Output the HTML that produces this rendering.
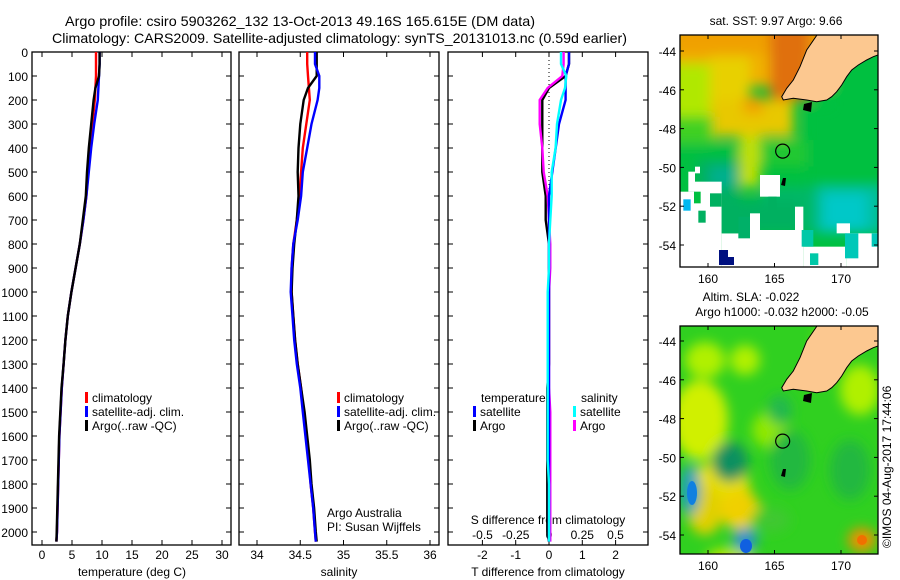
<!DOCTYPE html>
<html><head><meta charset="utf-8"><style>
html,body{margin:0;padding:0;background:#fff;width:900px;height:580px;overflow:hidden}
svg text{font-family:"Liberation Sans",sans-serif;fill:#000}
</style></head><body>
<svg id="fig" xmlns="http://www.w3.org/2000/svg" width="900" height="580" viewBox="0 0 900 580">
<defs>
<filter id="blur6" x="-20%" y="-20%" width="140%" height="140%"><feGaussianBlur stdDeviation="6"/></filter>
<filter id="blur3"><feGaussianBlur stdDeviation="3"/></filter>
<clipPath id="clipTop"><rect x="680" y="35" width="198" height="232"/></clipPath>
<clipPath id="clipBot"><rect x="680" y="326" width="198" height="228"/></clipPath>
</defs>
<text x="65" y="26" font-size="14" textLength="470" lengthAdjust="spacingAndGlyphs">Argo profile: csiro 5903262_132 13-Oct-2013 49.16S 165.615E (DM data)</text>
<text x="52" y="43" font-size="14" textLength="575" lengthAdjust="spacingAndGlyphs">Climatology: CARS2009. Satellite-adjusted climatology: synTS_20131013.nc (0.59d earlier)</text>
<g id="plots"></g>
<g id="maps"></g>
<text font-size="12" transform="translate(891,548) rotate(-90)">©IMOS 04-Aug-2017 17:44:06</text>
</svg>
<script>
const depths=[0,50,100,150,200,300,400,500,600,700,800,900,1000,1100,1200,1300,1400,1500,1600,1700,1800,1900,2000,2040];
const tClim=[9.0,9.0,9.0,8.9,8.8,8.4,8.0,7.7,7.4,6.9,6.3,5.6,4.9,4.3,3.9,3.6,3.3,3.1,2.9,2.8,2.7,2.6,2.5,2.4];
const tSat=[9.6,9.6,9.5,9.4,9.3,8.7,8.2,7.8,7.4,6.9,6.3,5.6,4.9,4.3,3.9,3.6,3.3,3.1,2.9,2.8,2.7,2.6,2.5,2.4];
const tArgo=[9.6,9.6,9.5,8.9,8.6,8.2,7.8,7.5,7.3,6.8,6.3,5.6,4.9,4.3,3.9,3.6,3.25,3.05,2.85,2.75,2.65,2.55,2.45,2.4];
const sClim=[34.58,34.58,34.59,34.6,34.61,34.57,34.53,34.51,34.49,34.46,34.42,34.40,34.40,34.42,34.44,34.47,34.51,34.54,34.57,34.60,34.62,34.65,34.67,34.68];
const sSat=[34.67,34.67,34.72,34.72,34.70,34.63,34.58,34.53,34.51,34.47,34.42,34.40,34.39,34.41,34.43,34.46,34.50,34.53,34.56,34.59,34.62,34.65,34.67,34.68];
const sArgo=[34.69,34.69,34.69,34.59,34.54,34.50,34.48,34.47,34.48,34.46,34.43,34.41,34.40,34.42,34.44,34.47,34.51,34.55,34.58,34.61,34.63,34.66,34.68,34.69];
const depthTicks=[0,100,200,300,400,500,600,700,800,900,1000,1100,1200,1300,1400,1500,1600,1700,1800,1900,2000];
const tTicks=[0,5,10,15,20,25,30];
const sTicks=[34,34.5,35,35.5,36];
const dTTicks=[-2,-1,0,1,2];
const dSTicks=[-0.5,-0.25,0,0.25,0.5];
const dSTickLabels=["-0.5","-0.25","0","0.25","0.5"];
const lonTicks=[160,165,170];
const latTicks=[-44,-46,-48,-50,-52,-54];

const NS="http://www.w3.org/2000/svg";
function mk(tag,attrs,parent){const e=document.createElementNS(NS,tag);for(const k in attrs)e.setAttribute(k,attrs[k]);parent.appendChild(e);return e;}
const plots=document.getElementById('plots');
const TOP=52,BOT=545;
const yD=d=>TOP+d*0.24;
const xT=t=>42+t*6;
const xS=s=>257+(s-34)*86.5;
const xDT=v=>549+v*33.3;
const xDS=v=>549+v*133;

function frame(x0,x1,name){
  const r=mk('rect',{x:x0,y:TOP,width:x1-x0,height:BOT-TOP,fill:'none',stroke:'#000','stroke-width':1.3},plots);
  
  
  depthTicks.forEach(d=>{mk('line',{x1:x0,x2:x0+5,y1:yD(d),y2:yD(d),stroke:'#000'},plots);mk('line',{x1:x1,x2:x1-5,y1:yD(d),y2:yD(d),stroke:'#000'},plots);});
}
function txt(x,y,s,size,anchor,name){const t=mk('text',{x:x,y:y,'font-size':size,'text-anchor':anchor||'start'},plots);t.textContent=s;
  
  
  return t;}
function line(xs,xf,color,name){
  const pts=depths.map((d,i)=>xf(xs[i]).toFixed(1)+','+yD(d).toFixed(1)).join(' ');
  const p=mk('polyline',{points:pts,fill:'none',stroke:color,'stroke-width':2.4},plots);
  
  
}
frame(32,231,'temperature-panel');
frame(239,439,'salinity-panel');
frame(448,648,'difference-panel');
depthTicks.forEach(d=>txt(28,yD(d)+5,String(d),12,'end','depth-tick-label'));
tTicks.forEach(t=>{mk('line',{x1:xT(t),x2:xT(t),y1:TOP,y2:TOP+5,stroke:'#000'},plots);mk('line',{x1:xT(t),x2:xT(t),y1:BOT,y2:BOT-5,stroke:'#000'},plots);txt(xT(t),559,String(t),12,'middle','temp-tick-label');});
sTicks.forEach(s=>{mk('line',{x1:xS(s),x2:xS(s),y1:TOP,y2:TOP+5,stroke:'#000'},plots);mk('line',{x1:xS(s),x2:xS(s),y1:BOT,y2:BOT-5,stroke:'#000'},plots);txt(xS(s),559,String(s),12,'middle','salinity-tick-label');});
dTTicks.forEach(v=>{mk('line',{x1:xDT(v),x2:xDT(v),y1:TOP,y2:TOP+5,stroke:'#000'},plots);mk('line',{x1:xDT(v),x2:xDT(v),y1:BOT,y2:BOT-5,stroke:'#000'},plots);txt(xDT(v),559,String(v),12,'middle','t-diff-tick-label');});
dSTicks.forEach((v,i)=>txt(xDS(v),539,dSTickLabels[i],12,'middle','s-diff-tick-label'));
txt(132,576,'temperature (deg C)',12,'middle','x-axis-title-temperature');
txt(339,576,'salinity',12,'middle','x-axis-title-salinity');
txt(548,576,'T difference from climatology',12,'middle','x-axis-title-t-diff');
txt(548,524,'S difference from climatology',12,'middle','x-axis-title-s-diff');
mk('line',{x1:549,x2:549,y1:TOP,y2:BOT,stroke:'#000','stroke-dasharray':'1,3'},plots);
line(tClim,xT,'#f00','temp-climatology-line');
line(tSat,xT,'#00f','temp-satellite-line');
line(tArgo,xT,'#000','temp-argo-line');
line(sClim,xS,'#f00','sal-climatology-line');
line(sArgo,xS,'#000','sal-argo-line');
line(sSat,xS,'#00f','sal-satellite-line');
const dSA=sArgo.map((v,i)=>v-sClim[i]),dSS=sSat.map((v,i)=>v-sClim[i]);
const dTA=tArgo.map((v,i)=>v-tClim[i]),dTS=tSat.map((v,i)=>v-tClim[i]);
line(dTA,xDT,'#000','t-diff-argo-line');
line(dSA,xDS,'#f0f','s-diff-argo-line');
line(dTS,xDT,'#00f','t-diff-satellite-line');
line(dSS,xDS,'#0ff','s-diff-satellite-line');
function leg(x,y,color,label,name){const r=mk('rect',{x:x,y:y-10,width:3,height:11,fill:color},plots);
  
  
  txt(x+7,y,label,12,'start',name);}
leg(85,402,'#f00','climatology','legend-climatology');
leg(85,416,'#00f','satellite-adj. clim.','legend-satellite-adj');
leg(85,430,'#000','Argo(..raw -QC)','legend-argo');
leg(337,402,'#f00','climatology','legend2-climatology');
leg(337,416,'#00f','satellite-adj. clim.','legend2-satellite-adj');
leg(337,430,'#000','Argo(..raw -QC)','legend2-argo');
txt(481,402,'temperature',12,'start','legend-temperature-header');
leg(473,416,'#00f','satellite','legend-t-satellite');
leg(473,430,'#000','Argo','legend-t-argo');
txt(581,402,'salinity',12,'start','legend-salinity-header');
leg(573,416,'#0ff','satellite','legend-s-satellite');
leg(573,430,'#f0f','Argo','legend-s-argo');
txt(327,517,'Argo Australia',12,'start','credit-argo-australia');
txt(327,531,'PI: Susan Wijffels',12,'start','credit-pi');

const maps=document.getElementById('maps');
const land=[[817,35],[806.7,50],[800,66.7],[793.3,80],[786.7,88.3],[781.7,96.7],[783.3,100],[793.3,98.3],[806.7,100],[816.7,101.7],[826.7,100],[831.7,96.7],[836.7,91.7],[841.7,85],[846.7,76.7],[851.7,70],[858.3,65],[866.7,60],[873.3,56.7],[878,55],[878,35]];
const P=(px)=>650+px/3, Q=(py)=>py/3;
function R(g,px0,py0,px1,py1,fill){mk('rect',{x:P(px0),y:Q(py0),width:(px1-px0)/3,height:(py1-py0)/3,fill:fill},g);}
function drawMap(y0,h,latTop,kind,name){
  const x0=680,w=198;
  const xl=lon=>708+(lon-160)*13.3;
  const yl=lat=>latTop+(-44-lat)*19.4;
  const g=mk('g',{'clip-path':'url(#'+(kind==='sst'?'clipTop':'clipBot')+')'},maps);
  
  
  if(kind==='sst'){
    mk('rect',{x:x0,y:y0,width:w,height:h,fill:'#00c040'},g);
    const b=mk('g',{filter:'url(#blur6)'},g);
    R(b,60,60,560,260,'#f0b000');
    R(b,60,60,520,160,'#f0a000');
    R(b,360,60,480,300,'#e07010');
    R(b,60,190,180,350,'#b0e800');
    R(b,180,170,300,300,'#e8d000');
    R(b,180,300,430,410,'#e8c800');
    R(b,280,290,340,340,'#f0a000');
    R(b,60,350,190,430,'#40d020');
    R(b,270,410,330,560,'#c0e000');
    R(b,330,420,480,500,'#20c830');
    R(b,540,170,720,560,'#00c040');
    R(b,470,320,720,560,'#00c040');
    R(b,60,430,270,520,'#00c040');
    R(b,140,480,270,620,'#00b060');
    R(b,180,500,260,560,'#00b090');
    R(b,330,560,700,700,'#00b868');
    R(b,500,560,700,700,'#00c0a0');
    R(b,520,580,650,690,'#00c8c8');
    R(b,200,600,450,700,'#00b060');
    const W='#fff';
    R(g,90,575,135,800,W);R(g,135,500,150,520,W);R(g,115,515,135,575,W);
    R(g,135,545,215,800,W);R(g,215,700,300,800,W);R(g,300,690,460,800,W);
    R(g,330,525,390,590,W);R(g,300,640,330,700,W);R(g,435,620,460,700,W);
    R(g,460,740,590,800,W);R(g,590,700,683,800,W);R(g,560,670,600,700,W);
    R(g,100,598,122,632,'#00b8f0');R(g,132,575,152,610,'#00c040');R(g,145,632,167,668,'#00b060');
    R(g,180,580,215,620,'#00b060');R(g,215,620,265,700,'#00b060');R(g,265,650,300,715,'#00b068');
    R(g,455,690,490,740,'#00c8a8');R(g,480,760,505,795,'#00c8a8');R(g,585,700,625,775,'#00c8b8');R(g,665,700,683,740,'#00c8b8');
    R(g,355,590,380,640,'#00b060');
    mk('polygon',{points:'719,250 728,250 728,257 734,257 734,265 719,265',fill:'#001080'},g);
  } else {
    mk('rect',{x:x0,y:y0,width:w,height:h,fill:'#30d020'},g);
    const b=mk('g',{filter:'url(#blur6)'},g);
    const blobs=[[700,420,28,40,'#d0f000'],[720,490,30,30,'#e8e000'],[705,510,18,25,'#e0d000'],[740,510,20,20,'#f0d000'],[730,560,25,12,'#c0e800'],[770,430,18,18,'#90e800'],[705,360,20,18,'#b0f000'],[745,360,15,15,'#b0f000'],[830,340,15,12,'#a0f000'],[860,390,20,25,'#b0f000'],[790,460,20,30,'#20b840'],[850,470,20,30,'#20b840'],[730,462,18,20,'#109060'],[770,520,20,12,'#40c830'],[690,490,10,25,'#20a0c0'],[745,540,12,12,'#2090d0'],[862,540,14,12,'#f09000'],[780,410,12,15,'#20b850']];
    blobs.forEach(c=>mk('ellipse',{cx:c[0],cy:c[1],rx:c[2],ry:c[3],fill:c[4]},b));
    mk('ellipse',{cx:692,cy:493,rx:5,ry:12,fill:'#1080e0'},g);
    mk('ellipse',{cx:746,cy:546,rx:6,ry:7,fill:'#1060e0'},g);
    mk('ellipse',{cx:862,cy:540,rx:5,ry:5,fill:'#f07000'},g);
  }
  const dy=y0-35;
  const lp=mk('polygon',{points:land.map(p=>p[0]+','+(p[1]+dy)).join(' '),fill:'#fcc890',stroke:'#000','stroke-width':1},g);
  
  
  mk('polygon',{points:(804+','+(104+dy))+' '+(812+','+(102+dy))+' '+(811+','+(112+dy))+' '+(803+','+(110+dy)),fill:'#000'},g);
  mk('polygon',{points:(783+','+(178+dy))+' '+(786+','+(178+dy))+' '+(785+','+(186+dy))+' '+(781+','+(185+dy)),fill:'#000'},g);
  const fr=mk('rect',{x:x0,y:y0,width:w,height:h,fill:'none',stroke:'#000','stroke-width':1.3},maps);
  
  
  const c=mk('circle',{cx:xl(165.615),cy:yl(-49.16),r:7,fill:'none',stroke:'#000','stroke-width':1.2},maps);
  
  
  lonTicks.forEach(l=>{mk('line',{x1:xl(l),x2:xl(l),y1:y0,y2:y0+4,stroke:'#000'},maps);mk('line',{x1:xl(l),x2:xl(l),y1:y0+h,y2:y0+h-4,stroke:'#000'},maps);
    const t=mk('text',{x:xl(l),y:y0+h+16,'font-size':12,'text-anchor':'middle'},maps);t.textContent=String(l);
    
    });
  latTicks.forEach(l=>{mk('line',{x1:x0,x2:x0+4,y1:yl(l),y2:yl(l),stroke:'#000'},maps);mk('line',{x1:x0+w,x2:x0+w-4,y1:yl(l),y2:yl(l),stroke:'#000'},maps);
    const t=mk('text',{x:676,y:yl(l)+5,'font-size':12,'text-anchor':'end'},maps);t.textContent=String(l);
    
    });
}
drawMap(35,232,51,'sst','sst-map');
drawMap(326,228,341,'sla','sla-map');
function mtxt(x,y,s,name){const t=mk('text',{x:x,y:y,'font-size':12,'text-anchor':'middle'},maps);t.textContent=s;
  
  }
mtxt(776,25,'sat. SST: 9.97 Argo: 9.66','sst-map-title');
mtxt(751,301,'Altim. SLA: -0.022','sla-map-title');
mtxt(782,316,'Argo h1000: -0.032 h2000: -0.05','sla-map-subtitle');
</script>
</body></html>
